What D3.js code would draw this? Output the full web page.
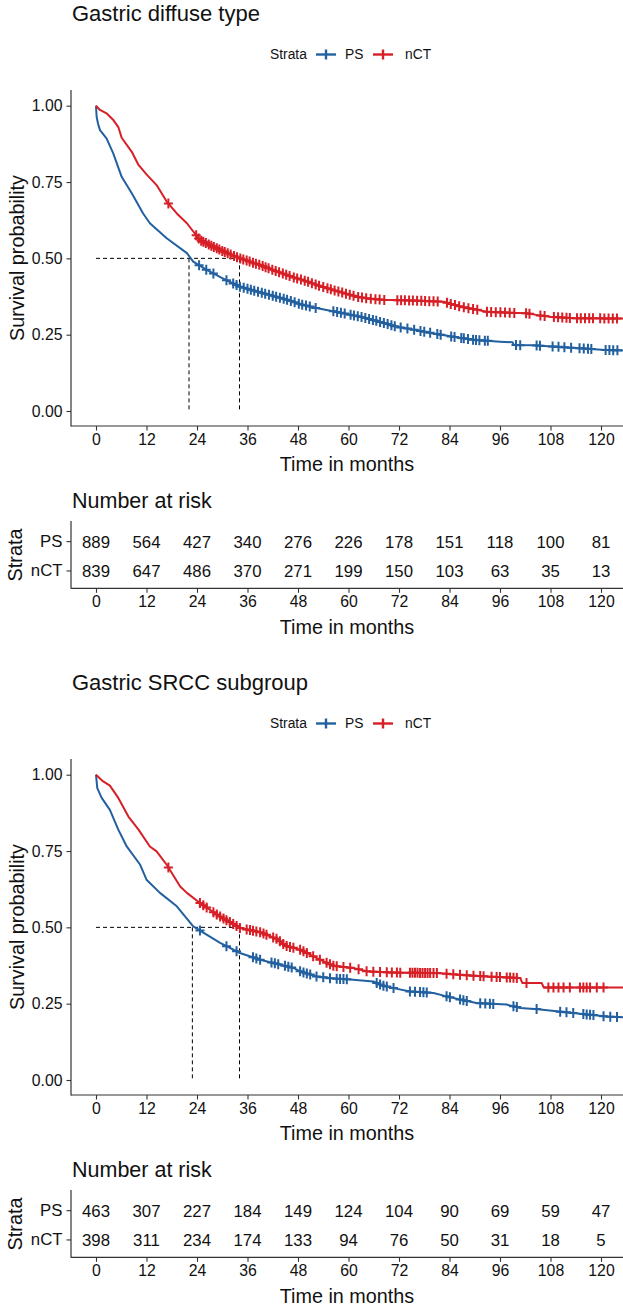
<!DOCTYPE html>
<html>
<head>
<meta charset="utf-8">
<script src="https://cdn.jsdelivr.net/npm/d3@7"></script>
<style>
  body { margin: 0; background: #fff; }
  svg { display: block; }
  text { font-family: "Liberation Sans", Arial, sans-serif; fill: #111; }
</style>
</head>
<body>
<svg width="623" height="1308"></svg>
<script>
// ---- data ----
const timeTicks = [0, 12, 24, 36, 48, 60, 72, 84, 96, 108, 120];
const survTicks = [0, 0.25, 0.5, 0.75, 1];
const strata = ["PS", "nCT"];
const strataColors = ["#22609F", "#D61F26"];

// Gastric diffuse type
const diffusePsTime = [0, 0.15, 0.5, 0.95, 2.5, 4.1, 6.1, 8.5, 11.2, 12.8, 16.8, 21.6, 23.1, 26.3, 30, 34.2, 40, 46, 48.5, 52, 58.8, 64.3, 68, 71.5, 76, 80.2, 85, 89.7, 96, 99, 99.3, 104, 110, 115.8, 121, 125.5];
const diffusePsSurv = [1, 0.964, 0.94, 0.92, 0.893, 0.844, 0.767, 0.713, 0.647, 0.615, 0.566, 0.517, 0.489, 0.462, 0.435, 0.407, 0.385, 0.362, 0.35, 0.338, 0.32, 0.304, 0.29, 0.276, 0.265, 0.254, 0.243, 0.233, 0.227, 0.225, 0.216, 0.215, 0.21, 0.205, 0.2, 0.198];
const diffuseNctTime = [0, 0.95, 2.5, 4, 5.3, 6.1, 8.5, 10.1, 12, 14.4, 16.8, 19.2, 21.6, 24.7, 27.9, 31, 34.2, 39, 43, 46.9, 50, 53, 56.4, 60, 62, 65, 68.3, 75, 82.6, 84, 86.5, 90, 92.8, 98, 102.3, 105, 107.9, 113.4, 125.5];
const diffuseNctSurv = [1, 0.986, 0.975, 0.955, 0.93, 0.895, 0.849, 0.806, 0.775, 0.74, 0.686, 0.647, 0.615, 0.56, 0.538, 0.518, 0.5, 0.478, 0.457, 0.438, 0.425, 0.41, 0.396, 0.382, 0.374, 0.368, 0.364, 0.362, 0.358, 0.352, 0.342, 0.333, 0.325, 0.322, 0.32, 0.314, 0.309, 0.304, 0.303];
const diffusePsCensor = [24.5, 26.2, 27.9, 31, 32.6, 33.4, 34.2, 35.1, 36, 36.8, 37.6, 38.5, 39.4, 40.2, 41.1, 42, 42.8, 43.7, 44.6, 45.4, 46.3, 47.2, 48.2, 49, 49.9, 50.8, 52.2, 56.4, 57.3, 58.2, 59.1, 60.5, 61.3, 62.2, 63.1, 64, 64.9, 65.8, 66.6, 67.5, 68.4, 69.3, 70.2, 71, 72.4, 74, 75.6, 77.1, 78, 79.4, 81.1, 81.9, 84.4, 85.2, 86.8, 87.4, 88.4, 89.6, 90.3, 91.1, 92.4, 93.1, 99.8, 100.8, 104.7, 105.5, 108.5, 109.9, 111.3, 112.9, 114.9, 115.9, 116.9, 117.7, 121.1, 122, 122.9, 123.9];
const diffuseNctCensor = [17.2, 23.8, 24.4, 25, 25.5, 26.1, 26.8, 27.4, 28, 28.7, 29.3, 30, 30.6, 31.3, 32, 32.8, 33.5, 34.3, 35, 35.8, 36.5, 37.3, 38, 38.8, 39.6, 40.3, 41, 41.9, 42.7, 43.5, 44.4, 45.2, 46, 47, 47.8, 48.7, 49.6, 50.4, 51.3, 52.2, 53, 54, 55, 55.8, 56.7, 57.6, 58.5, 59.4, 60.3, 61.2, 62.3, 63.2, 64.2, 65.3, 66.4, 67.4, 68.5, 71.6, 72.5, 73.4, 74.4, 75.3, 76.3, 77.3, 78.2, 79.2, 80.2, 81.2, 83.4, 84.3, 85.3, 86.3, 87.4, 88.5, 89.6, 90.6, 92.9, 93.9, 95, 96.1, 97.2, 98.3, 99.4, 102.2, 103, 105.6, 106.6, 108.8, 109.8, 110.8, 111.8, 112.6, 114.3, 115.2, 116.2, 117.2, 118.1, 119.8, 120.8, 121.8, 122.8, 123.8];
const diffuseMedians = [22.1, 34.1];
const diffuseRiskPs = [889, 564, 427, 340, 276, 226, 178, 151, 118, 100, 81];
const diffuseRiskNct = [839, 647, 486, 370, 271, 199, 150, 103, 63, 35, 13];

// Gastric SRCC subgroup
const srccPsTime = [0, 0.3, 1.35, 3.3, 5.3, 7.3, 10.5, 12, 15.2, 19.2, 23.1, 25.5, 29.5, 34.2, 39, 46.9, 48.5, 52.4, 56, 60.4, 65.9, 68, 70.7, 74.6, 80.2, 83.3, 87, 90.4, 97.6, 100.8, 105, 109.5, 115, 121.4, 125.5];
const srccPsSurv = [1, 0.956, 0.924, 0.885, 0.82, 0.765, 0.705, 0.656, 0.613, 0.569, 0.503, 0.483, 0.449, 0.416, 0.394, 0.367, 0.356, 0.339, 0.333, 0.329, 0.323, 0.31, 0.301, 0.29, 0.285, 0.274, 0.262, 0.252, 0.247, 0.236, 0.232, 0.225, 0.217, 0.208, 0.205];
const srccNctTime = [0, 1.7, 3.3, 5.3, 7.7, 10.1, 12.8, 14.4, 16.8, 20, 21.6, 24.7, 28.7, 34.2, 39, 43, 45, 48.5, 53.2, 56.4, 61.1, 64.3, 70, 81.7, 86, 92.8, 100.8, 101.3, 105.9, 106.4, 125.5];
const srccNctSurv = [1, 0.978, 0.964, 0.924, 0.863, 0.82, 0.765, 0.749, 0.705, 0.634, 0.613, 0.58, 0.542, 0.498, 0.484, 0.462, 0.44, 0.427, 0.394, 0.374, 0.367, 0.356, 0.352, 0.35, 0.345, 0.339, 0.334, 0.318, 0.318, 0.303, 0.303];
const srccPsCensor = [24.7, 31, 33.4, 37.3, 38.1, 39, 41.7, 42.5, 43.3, 44.9, 45.7, 46.5, 48.5, 49.3, 50.1, 50.9, 52.4, 54, 55.6, 57.2, 58, 58.8, 59.6, 66.7, 67.5, 68.3, 69.1, 70.7, 74.6, 75.8, 77, 77.8, 78.6, 83.3, 84.1, 86.5, 87.3, 88.1, 91.3, 92.5, 93.6, 94.4, 99.2, 100, 104.7, 110.3, 111.8, 113.4, 115.8, 116.6, 117.4, 118.2, 120.6, 122.2, 123.8];
const srccNctCensor = [17.2, 24.7, 25.5, 26.3, 27.9, 28.7, 29.5, 30.3, 31, 31.8, 32.6, 33.4, 34.2, 35.8, 36.6, 37.3, 38.1, 39, 39.8, 40.5, 42.1, 42.9, 43.7, 44.5, 45.3, 46.1, 46.9, 48.5, 49.3, 50.1, 51.6, 53.2, 54.8, 55.6, 56.4, 57.2, 58.8, 60.4, 62.4, 64.3, 65.9, 67.5, 69.1, 70.3, 71.5, 72.3, 74.6, 75.2, 75.8, 76.4, 77, 77.6, 78.2, 78.8, 79.4, 80.2, 81, 83.3, 84.9, 86.5, 88.1, 89.7, 91.3, 92.1, 94, 95.2, 96, 97.6, 98.4, 99.2, 100, 102.3, 107.5, 108.7, 109.9, 111.1, 112.6, 115, 115.8, 116.6, 117.4, 119, 120.6];
const srccMedians = [22.9, 34.1];
const srccRiskPs = [463, 307, 227, 184, 149, 124, 104, 90, 69, 59, 47];
const srccRiskNct = [398, 311, 234, 174, 133, 94, 76, 50, 31, 18, 5];

const panels = [
  { title: "Gastric diffuse type", top: 0,
    curves: [[diffusePsTime, diffusePsSurv, diffusePsCensor], [diffuseNctTime, diffuseNctSurv, diffuseNctCensor]],
    medians: diffuseMedians, risk: [diffuseRiskPs, diffuseRiskNct] },
  { title: "Gastric SRCC subgroup", top: 669,
    curves: [[srccPsTime, srccPsSurv, srccPsCensor], [srccNctTime, srccNctSurv, srccNctCensor]],
    medians: srccMedians, risk: [srccRiskPs, srccRiskNct] }
];

// ---- layout ----
const svg = d3.select('svg');
const left = 71, right = 623;
const axisCol = '#333';
const x = d3.scaleLinear().domain([0, 120]).range([96, 601]);

// clip so curves stop at the right edge of the panel
svg.append('defs').append('clipPath').attr('id', 'clipX')
  .append('rect').attr('x', left).attr('y', 0).attr('width', right - left).attr('height', 1308);

// interpolate along a drawn curve so censor marks sit on the line
const onCurve = (times, surv, t) => {
  const i = d3.bisectRight(times, t);
  if (i <= 0) return surv[0];
  if (i >= times.length) return surv[surv.length - 1];
  const k = (t - times[i - 1]) / (times[i] - times[i - 1]);
  return surv[i - 1] + k * (surv[i] - surv[i - 1]);
};

const styleAxis = g => {
  g.select('.domain').remove();
  g.selectAll('.tick line').attr('stroke', axisCol).attr('stroke-width', 1.1);
  g.selectAll('.tick text').attr('fill', '#1a1a1a').attr('font-family', '"Liberation Sans", Arial, sans-serif');
};

panels.forEach(p => {
  const top = p.top;
  const y = d3.scaleLinear().domain([0, 1]).range([top + 411, top + 105.7]);
  const g = svg.append('g');

  // title
  g.append('text').attr('x', 72).attr('y', top + 21).attr('font-size', '22px').text(p.title);

  // legend
  const lg = g.append('g').attr('transform', `translate(0,${top + 54.5})`);
  lg.append('text').attr('x', 270).attr('y', 4.8).attr('font-size', '13.8px').text('Strata');
  [[316, 345], [373, 405]].forEach((pos, i) => {
    lg.append('line').attr('x1', pos[0]).attr('x2', pos[0] + 20).attr('y1', 0).attr('y2', 0)
      .attr('stroke', strataColors[i]).attr('stroke-width', 2.4);
    lg.append('line').attr('x1', pos[0] + 10).attr('x2', pos[0] + 10).attr('y1', -5).attr('y2', 5)
      .attr('stroke', strataColors[i]).attr('stroke-width', 2.4);
    lg.append('text').attr('x', pos[1]).attr('y', 4.8).attr('font-size', '13.8px').text(strata[i]);
  });

  // axes of the survival plot
  g.append('g').attr('transform', `translate(${left},0)`)
    .call(d3.axisLeft(y).tickValues(survTicks).tickFormat(d3.format('.2f')).tickSize(4.5).tickPadding(4))
    .call(styleAxis)
    .selectAll('.tick text').attr('font-size', '15.8px');
  g.append('g').attr('transform', `translate(0,${top + 426})`)
    .call(d3.axisBottom(x).tickValues(timeTicks).tickSize(4.5).tickPadding(3))
    .call(styleAxis)
    .selectAll('.tick text').attr('font-size', '15.8px');
  g.append('line').attr('x1', left).attr('x2', left).attr('y1', top + 90).attr('y2', top + 426.5)
    .attr('stroke', axisCol).attr('stroke-width', 1.2);
  g.append('line').attr('x1', left).attr('x2', right).attr('y1', top + 426).attr('y2', top + 426)
    .attr('stroke', axisCol).attr('stroke-width', 1.2);

  g.append('text').attr('x', 347).attr('y', top + 471).attr('text-anchor', 'middle')
    .attr('font-size', '19.8px').text('Time in months');
  g.append('text').attr('transform', `translate(24,${top + 258}) rotate(-90)`).attr('text-anchor', 'middle')
    .attr('font-size', '19.8px').text('Survival probability');

  // median survival lines
  const med = g.append('g').attr('stroke', '#000').attr('stroke-width', 1).attr('stroke-dasharray', '4,3');
  med.append('line').attr('x1', x(0)).attr('x2', x(d3.max(p.medians))).attr('y1', y(0.5)).attr('y2', y(0.5));
  p.medians.forEach(m => {
    med.append('line').attr('x1', x(m)).attr('x2', x(m)).attr('y1', y(0.5)).attr('y2', y(0));
  });

  // curves and censor marks
  const plot = g.append('g').attr('clip-path', 'url(#clipX)');
  p.curves.forEach((c, i) => {
    const [times, surv, cens] = c;
    const line = d3.line().x(d => x(d[0])).y(d => y(d[1]));
    plot.append('path').datum(times.map((t, j) => [t, surv[j]]))
      .attr('d', line).attr('fill', 'none')
      .attr('stroke', strataColors[i]).attr('stroke-width', 2).attr('stroke-linejoin', 'round');
    plot.append('g').selectAll('path').data(cens).enter().append('path')
      .attr('d', t => {
        const cx = x(t), cy = y(onCurve(times, surv, t));
        return `M${cx - 4.5},${cy}H${cx + 4.5}M${cx},${cy - 5}V${cy + 5}`;
      })
      .attr('stroke', strataColors[i]).attr('stroke-width', 2).attr('fill', 'none');
  });

  // ---- risk table ----
  const rowY = d3.scaleBand().domain(strata).range([top + 527, top + 585.6]);
  g.append('text').attr('x', 72).attr('y', top + 508).attr('font-size', '21.5px').text('Number at risk');
  g.append('g').attr('transform', `translate(${left},0)`)
    .call(d3.axisLeft(rowY).tickSize(4.5).tickPadding(4))
    .call(styleAxis)
    .selectAll('.tick text').attr('font-size', '16.8px');
  g.append('g').attr('transform', `translate(0,${top + 588.3})`)
    .call(d3.axisBottom(x).tickValues(timeTicks).tickSize(4.5).tickPadding(3))
    .call(styleAxis)
    .selectAll('.tick text').attr('font-size', '15.8px');
  g.append('line').attr('x1', left).attr('x2', left).attr('y1', top + 521).attr('y2', top + 588.8)
    .attr('stroke', axisCol).attr('stroke-width', 1.2);
  g.append('line').attr('x1', left).attr('x2', right).attr('y1', top + 588.3).attr('y2', top + 588.3)
    .attr('stroke', axisCol).attr('stroke-width', 1.2);

  p.risk.forEach((row, i) => {
    g.append('g').selectAll('text').data(row).enter().append('text')
      .attr('x', (d, j) => x(timeTicks[j]))
      .attr('y', rowY(strata[i]) + rowY.bandwidth() / 2)
      .attr('dy', '0.35em').attr('text-anchor', 'middle').attr('font-size', '16.8px')
      .text(d => d);
  });

  g.append('text').attr('x', 347).attr('y', top + 634).attr('text-anchor', 'middle')
    .attr('font-size', '19.8px').text('Time in months');
  g.append('text').attr('transform', `translate(22,${top + 555}) rotate(-90)`).attr('text-anchor', 'middle')
    .attr('font-size', '19.8px').text('Strata');
});
</script>
</body>
</html>
